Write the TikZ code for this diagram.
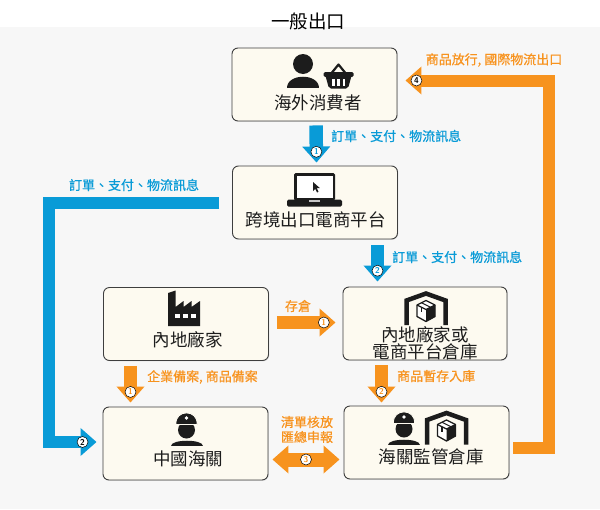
\documentclass[tikz,border=0pt]{standalone}
\usepackage{fontspec}
\newfontfamily\cjk{Noto Sans CJK TC}
\newfontfamily\cjkm{Noto Sans CJK TC}[FakeBold=0.7]
\usetikzlibrary{arrows.meta,shadows}
\definecolor{cblue}{RGB}{9,155,215}
\definecolor{corange}{RGB}{247,147,30}
\definecolor{bgc}{RGB}{247,247,247}
\definecolor{boxfill}{RGB}{253,250,240}
\definecolor{ink}{RGB}{28,28,28}
\newcommand\officericon[1]{%
\begin{scope}[shift={#1}]
 \fill[ink] (0,1) ellipse[x radius=8.5pt,y radius=8.5pt];
 \filldraw[fill=ink,draw=boxfill,line width=0.9pt] (-10.5,-4.5) .. controls (-12,-20) and (12,-20) .. (10.5,-4.5) -- cycle;
 \fill[white] (0,-11) circle[radius=1.8pt];
 \fill[ink] (-16,17) .. controls (-16,9.5) and (16,9.5) .. (16,17) -- cycle;
\end{scope}}
\newcommand\whouseicon[1]{%
\begin{scope}[shift={#1}]
 \draw[ink,line width=4.5pt,line join=miter] (-19.5,16.5) -- (-19.5,-8) -- (0,-15) -- (19.5,-8) -- (19.5,16.5);
 \fill[white] (0,-8) -- (9,-3.5) -- (9,8) -- (0,13) -- (-9,8) -- (-9,-3.5) -- cycle;
 \fill[ink] (0,1) -- (9,-3.5) -- (9,8) -- (0,13) -- cycle;
 \draw[ink,line width=1.3pt,line join=round] (0,-8) -- (9,-3.5) -- (9,8) -- (0,13) -- (-9,8) -- (-9,-3.5) -- cycle;
 \draw[ink,line width=1.3pt,line join=round] (-9,-3.5) -- (0,1) -- (9,-3.5);
 \draw[ink,line width=1.1pt] (-4.5,-5.75) -- (4.5,-1.25);
 \draw[ink,line width=1.1pt] (-4.5,-1.25) -- (-4.5,3.5);
\end{scope}}
\begin{document}
\begin{tikzpicture}[x=1pt,y=-1pt,
 box/.style={draw=ink!85,line width=0.9pt,fill=boxfill,rounded corners=6pt,minimum width=165pt,minimum height=73pt,inner sep=0pt,drop shadow={opacity=0.18,shadow xshift=0.8pt,shadow yshift=-0.8pt}},
 boxtext/.style={font=\cjk\fontsize{17.5}{17}\selectfont,text=ink,inner sep=0pt,align=center},
 lbl/.style={font=\cjkm\fontsize{13}{15}\selectfont,inner sep=0pt,align=center},
 bluelbl/.style={lbl,text=cblue},
 orlbl/.style={lbl,text=corange},
 arr/.style={line width=13.5pt,-{Triangle[width=27pt,length=16pt]}},
 bigarr/.style={line width=12pt,line join=miter,-{Triangle[width=27pt,length=16pt]}},
 num/.style={circle,draw=black,line width=0.5pt,fill=white,minimum size=11pt,inner sep=0pt,font=\sffamily\bfseries\fontsize{8.5}{8.5}\selectfont}
]
\fill[white] (0,0) rectangle (600,27);
\fill[bgc] (0,27) rectangle (600,509);
\useasboundingbox (0,0) rectangle (600,509);

\node[font=\cjk\fontsize{18.5}{22}\selectfont,inner sep=0pt] (title) at (308,21) {一般出口};

% boxes
\node[box] (cons) at (314.5,84.5) {};
\node[box] (plat) at (315,202.5) {};
\node[box] (fact) at (186,324) {};
\node[box,minimum width=164pt] (wh) at (425,323.5) {};
\node[box] (cust) at (185.5,443.5) {};
\node[box] (bond) at (426.5,442.5) {};

% box texts
\node[boxtext] (tcons) at (318,103) {海外消費者};
\node[boxtext] (tplat) at (315.5,220) {跨境出口電商平台};
\node[boxtext] (tfact) at (187.5,340) {內地廠家};
\node[boxtext] (twh) at (425,343.5) {內地廠家或\\電商平台倉庫};
\node[boxtext] (tcust) at (188,459) {中國海關};
\node[boxtext] (tbond) at (431,457) {海關監管倉庫};

% icon: person + basket
\fill[ink] (303,64) circle[radius=10pt];
\fill[ink] (287,88) .. controls (287,72.5) and (319,72.5) .. (319,88) -- cycle;
\draw[ink,line width=2.2pt,line join=round] (330,75) -- (338.5,64.5) -- (347,75);
\fill[ink,rounded corners=1.5pt] (323.5,72) rectangle (353.5,77);
\fill[ink,rounded corners=2pt] (325.5,76) -- (351.5,76) -- (348,88.5) -- (329,88.5) -- cycle;
\fill[white] (332,79) rectangle (334.5,86);
\fill[white] (337.3,79) rectangle (339.8,86);
\fill[white] (342.6,79) rectangle (345.1,86);

% icon: laptop
\fill[ink,rounded corners=1.5pt] (294,173) rectangle (335,200.5);
\fill[white] (296.5,175.5) rectangle (332.5,198);
\fill[ink,rounded corners=1.5pt] (287,199.5) rectangle (342,206.5);
\fill[white!75!ink] (309,200.3) rectangle (320,202);
\fill[ink] (313,182) -- (313,191) -- (315.2,188.8) -- (317,192.5) -- (318.5,191.8) -- (316.8,188.2) -- (319.8,188) -- cycle;

% icon: factory
\fill[ink] (168,326) -- (168,293) -- (175.5,290.5) -- (175.5,307) -- (183.5,301) -- (183.5,307) -- (191.5,301) -- (191.5,307) -- (200,301) -- (200,326) -- cycle;
\fill[white] (174.5,314) rectangle (180,317.5);
\fill[white] (182.5,314) rectangle (188,317.5);
\fill[white] (190.5,314) rectangle (196,317.5);

% icons: warehouse, officers
\whouseicon{(426,308.5)}
\officericon{(186.5,429)}
\officericon{(404,428)}
\whouseicon{(446.5,428)}

% connectors
\draw[arr,cblue] ([xshift=1.5pt,yshift=-4pt]cons.south) -- ([xshift=1.5pt,yshift=3pt]plat.north) node[num,pos=0.71] (c1) {1};
\draw[arr,cblue] ([xshift=62.5pt,yshift=-6pt]plat.south) -- ([xshift=-47.5pt,yshift=5pt]wh.north) node[num,pos=0.70] (c2) {2};
\coordinate (bl) at (48.5,442);
\draw[bigarr,cblue] ([xshift=-13pt]plat.west) -| (bl) -- ([xshift=-6pt,yshift=1.5pt]cust.west);
\node[num] (c2b) at ([xshift=-20pt,yshift=1.5pt]cust.west) {2};

\draw[arr,corange] ([xshift=8pt,yshift=1.5pt]fact.east) -- ([xshift=-7pt,yshift=1pt]wh.west) node[num,pos=0.8] (c1b) {1};
\draw[arr,corange] ([xshift=-55.5pt,yshift=-5pt]fact.south) -- ([xshift=-55pt,yshift=4pt]cust.north) node[num,pos=0.71] (c1c) {1};
\draw[arr,corange] ([xshift=-43.5pt,yshift=-5pt]wh.south) -- ([xshift=-45pt,yshift=3pt]bond.north) node[num,pos=0.71] (c2c) {2};
\draw[line width=14pt,corange,{Triangle[width=27pt,length=16pt]}-{Triangle[width=27pt,length=16pt]}] ([xshift=4pt,yshift=-16pt]cust.east) -- ([xshift=-4pt,yshift=-17pt]bond.west) node[num,midway] (c3) {3};
\coordinate (orc) at (549,80.5);
\draw[bigarr,corange] ([xshift=4pt,yshift=-5pt]bond.east) -| (orc) -- ([xshift=8pt,yshift=4pt]cons.east);
\node[num] (c4) at ([xshift=19pt,yshift=4pt]cons.east) {4};

% labels
\node[bluelbl,anchor=west] (l1) at (331,136) {訂單、支付、物流訊息};
\node[bluelbl,anchor=west] (l2) at (392,257) {訂單、支付、物流訊息};
\node[bluelbl] (l3) at (134,185) {訂單、支付、物流訊息};
\node[orlbl] (l4) at (298,306) {存倉};
\node[orlbl,anchor=west] (l5) at (147,377) {企業備案, 商品備案};
\node[orlbl,anchor=west] (l6) at (397,376) {商品暫存入庫};
\node[orlbl] (l7) at (307,429.5) {清單核放\\匯總申報};
\node[orlbl] (l8) at (494,60) {商品放行, 國際物流出口};
\end{tikzpicture}
\end{document}
